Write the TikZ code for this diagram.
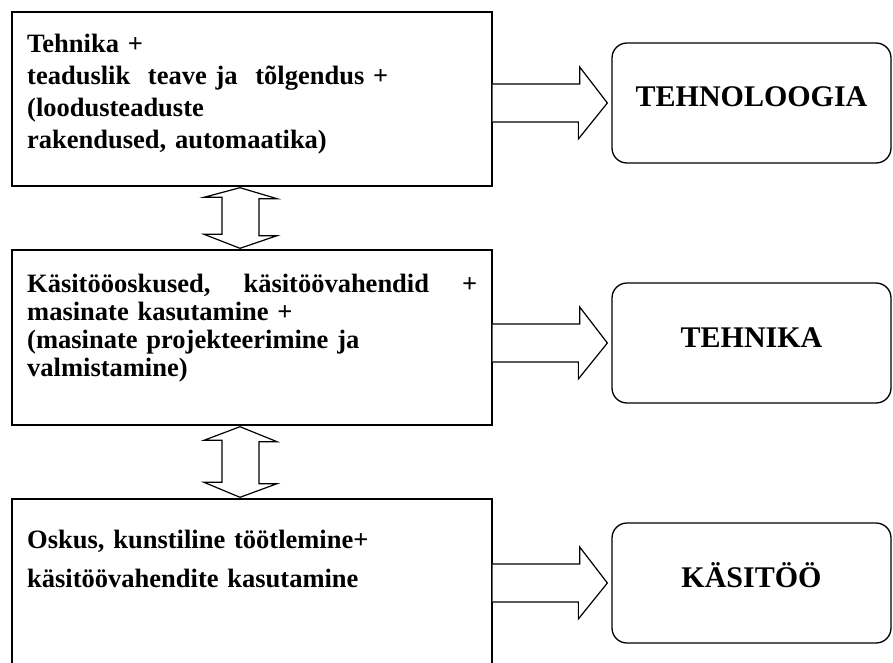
\documentclass[tikz,border=0pt]{standalone}
\usepackage{fontspec}
\setmainfont{Liberation Serif}
\usetikzlibrary{calc}

\tikzset{
  sqbox/.style={draw, line width=1.4pt, rectangle, inner sep=0pt},
  rbox/.style={draw, line width=1.3pt, rectangle, rounded corners=15pt,
    minimum width=279pt, minimum height=120pt, inner sep=0pt,
    font=\bfseries\fontsize{30}{34}\selectfont,
    text height=20pt, text depth=12pt},
  bodytext/.style={anchor=base west, inner sep=0pt, text width=455pt,
    align=left, font=\bfseries\fontsize{26.5}{#1}\selectfont},
  blockarrow/.style={draw, line width=1.2pt, line join=miter, fill=white}
}

\begin{document}
\begin{tikzpicture}[x=1pt, y=-1pt]
  \clip (0,0) rectangle (893,663);

  % left column of framed boxes
  \node[sqbox, minimum width=480pt, minimum height=174pt] (b1) at (252,99) {};
  \node[sqbox, minimum width=480pt, minimum height=175pt] (b2) at (252,337.5) {};
  \node[sqbox, minimum width=480pt, minimum height=202pt] (b3) at (252,600) {};

  % their texts
  \node[bodytext=31.7pt] (t1) at (27,53)
    {Tehnika +\\
     teaduslik\ \ teave ja\ \ tõlgendus +\\
     (loodusteaduste\\
     rakendused, automaatika)};
  \node[bodytext=28.3pt] (t2) at (27,292)
    {\hbox to 450pt{Käsitööoskused,\hfill käsitöövahendid\hfill +}\\
     masinate kasutamine +\\
     (masinate projekteerimine ja\\
     valmistamine)};
  \node[bodytext=39pt] (t3) at (27,548)
    {Oskus, kunstiline töötlemine+\\
     käsitöövahendite kasutamine};

  % right column of rounded boxes
  \node[rbox] (r1) at (751.5,103) {TEHNOLOOGIA};
  \node[rbox] (r2) at (751.5,343) {TEHNIKA};
  \node[rbox] (r3) at (751.5,583) {KÄSITÖÖ};

  % block arrows from each box to its result
  \foreach \b/\r in {b1/r1, b2/r2, b3/r3}{
    \draw[blockarrow]
      ($(\b.east|-\r.west)+(0,-19)$) -- ++(87,0) -- ++(0,-17)
      -- ($(\r.west)+(-4,0)$) -- ++(-29,36) -- ++(0,-17)
      -- ($(\b.east|-\r.west)+(0,19)$);
  }

  % double block arrows between the framed boxes
  \draw[blockarrow]
    ($(b1.south)+(-12,1)$) -- ++(37,11) -- ++(-18,0) -- ++(0,37) -- ++(18,0)
    -- ($(b2.north)+(-12,-1)$) -- ++(-36,-14) -- ++(18,0) -- ++(0,-37)
    -- ++(-18,0) -- cycle;
  \draw[blockarrow]
    ($(b2.south)+(-12,1)$) -- ++(37,15) -- ++(-18,0) -- ++(0,42) -- ++(18,0)
    -- ($(b3.north)+(-12,-1)$) -- ++(-36,-15) -- ++(18,0) -- ++(0,-42)
    -- ++(-18,0) -- cycle;
\end{tikzpicture}
\end{document}
